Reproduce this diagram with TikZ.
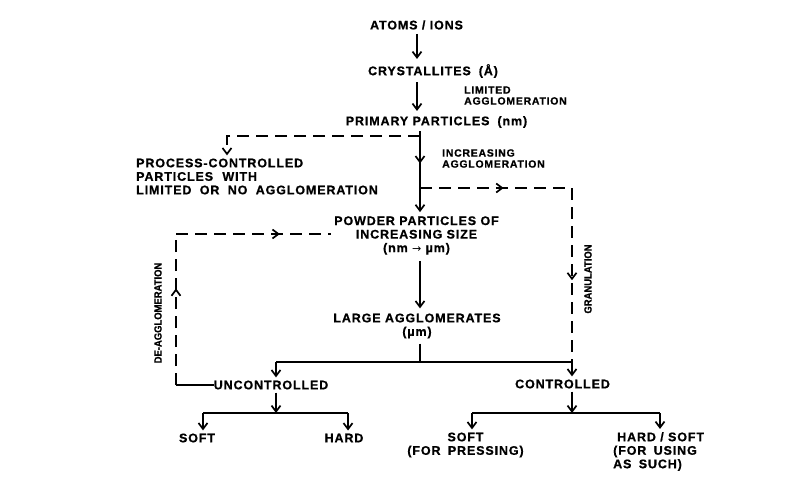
\documentclass[tikz,border=0pt]{standalone}
\usepackage{fontspec}
\usepackage{graphicx}
\setmainfont{Liberation Sans}[LetterSpace=7,BoldFeatures={FakeBold=0.8}]
\newfontfamily\symfont{DejaVu Sans}
\usetikzlibrary{arrows.meta,decorations.markings}
\tikzset{
  tip/.tip={Straight Barb[length=6pt,width=9pt,line width=1.7pt]},
  ln/.style={line width=1.3pt},
  arr/.style={ln,-tip},
  dsh/.style={ln,dash pattern=on 12pt off 7pt},
  midarrow/.style={postaction={decorate},decoration={markings,mark=at position #1 with {\arrow{tip}}}},
  lbl/.style={font=\bfseries\fontsize{12.5}{13.5}\selectfont,inner sep=0pt,align=center},
  small/.style={font=\bfseries\fontsize{10.5}{11}\selectfont,inner sep=0pt,align=left},
  rot/.style={font=\bfseries\fontsize{10.5}{11}\selectfont\addfontfeature{LetterSpace=0},inner sep=0pt,rotate=90},
}
\begin{document}
\begin{tikzpicture}[x=1pt,y=-1pt]
\useasboundingbox (0,0) rectangle (800,500);
% nodes
\node[lbl] (atoms) at (416.5,25) {ATOMS / IONS};
\node[lbl] (cryst) at (433,71) {CRYSTALLITES\hspace{8pt}(Å)};
\node[small,anchor=west] (lim) at (464,95.5) {LIMITED\\AGGLOMERATION};
\node[lbl] (prim) at (436.5,122) {PRIMARY PARTICLES\hspace{8pt}(nm)};
\node[lbl,align=left,anchor=west] (proc) at (136,176.5) {PROCESS-CONTROLLED\\PARTICLES\hspace{5pt} WITH\\LIMITED\hspace{4pt} OR\hspace{4pt} NO\hspace{4pt} AGGLOMERATION};
\node[small,anchor=west] (inc) at (442,158.5) {INCREASING\\AGGLOMERATION};
\node[lbl] (powder) at (416.5,235.5) {POWDER PARTICLES OF\\INCREASING SIZE\\(nm {\symfont\mdseries\fontsize{11}{12}\selectfont →} µm)};
\node[rot] (deag) at (158,313) {\scalebox{0.9}[1]{DE-AGGLOMERATION}};
\node[rot] (gran) at (588,279) {\scalebox{0.9}[1]{GRANULATION}};
\node[lbl] (large) at (417,326) {LARGE AGGLOMERATES\\(µm)};
\node[lbl] (unc) at (271,385) {UNCONTROLLED};
\node[lbl] (ctrl) at (562.5,384) {CONTROLLED};
\node[lbl] (soft1) at (197,438) {SOFT};
\node[lbl] (hard1) at (344,438) {HARD};
\node[lbl] (soft2) at (465.5,445) {SOFT\\(FOR\hspace{3pt} PRESSING)};
\node[lbl,align=left,anchor=west] (hard2) at (613,451.5) {\hspace{4pt}HARD / SOFT\\(FOR\hspace{3pt} USING\\AS\hspace{3pt} SUCH)};
% junction coordinates
\coordinate (a1) at (417,0);
\coordinate (a2) at (420,0);
\coordinate (jp) at (420,136);
\coordinate (jl) at (227,136);
\coordinate (jg) at (420,188);
\coordinate (gr) at (572,188);
\coordinate (jb) at (420,362);
\coordinate (bl) at (276,362);
\coordinate (br) at (572,362);
\coordinate (dc) at (176,385);
\coordinate (dt) at (176,234);
\coordinate (ul) at (203,413);
\coordinate (ur) at (348,413);
\coordinate (um) at (276,413);
\coordinate (cl) at (472,413);
\coordinate (cr) at (660,413);
\coordinate (cm) at (572,413);
% connectors
\draw[arr] ([yshift=-4pt]atoms.south -| a1) -- ([yshift=5pt]cryst.north -| a1);
\draw[arr] ([yshift=-4pt]cryst.south -| a1) -- ([yshift=5pt]prim.north -| a1);
\draw[arr,midarrow=0.4] ([yshift=-3pt]prim.south -| a2) -- ([yshift=4pt]powder.north -| a2);
\draw[dsh,-tip] (jp) -- (jl) -- ([yshift=3pt]proc.north -| jl);
\draw[dsh,midarrow=0.55] (jg) -- (gr);
\draw[dsh,midarrow=0.53] (gr) -- (br);
\draw[ln] (unc.west) -- (dc);
\draw[dsh,midarrow=0.64] (dc) -- (dt);
\draw[dsh,midarrow=0.67] (dt) -- ([xshift=-3pt]powder.west |- dt);
\draw[arr] ([yshift=-6pt]powder.south -| a2) -- ([yshift=5pt]large.north -| a2);
\draw[ln] ([yshift=-5pt]large.south -| a2) -- (jb);
\draw[ln] (bl) -- (br);
\draw[arr] (bl) -- ([yshift=3pt]unc.north -| bl);
\draw[arr] (br) -- ([yshift=3pt]ctrl.north -| br);
\draw[arr] ([yshift=-3pt]unc.south -| um) -- (um);
\draw[ln] (ul) -- (ur);
\draw[arr] (ul) -- ([yshift=3pt]soft1.north -| ul);
\draw[arr] (ur) -- ([yshift=3pt]hard1.north -| ur);
\draw[arr] ([yshift=-3pt]ctrl.south -| cm) -- (cm);
\draw[ln] (cl) -- (cr);
\draw[arr] (cl) -- ([yshift=3pt]soft2.north -| cl);
\draw[arr] (cr) -- ([yshift=3pt]hard2.north -| cr);
\end{tikzpicture}
\end{document}
